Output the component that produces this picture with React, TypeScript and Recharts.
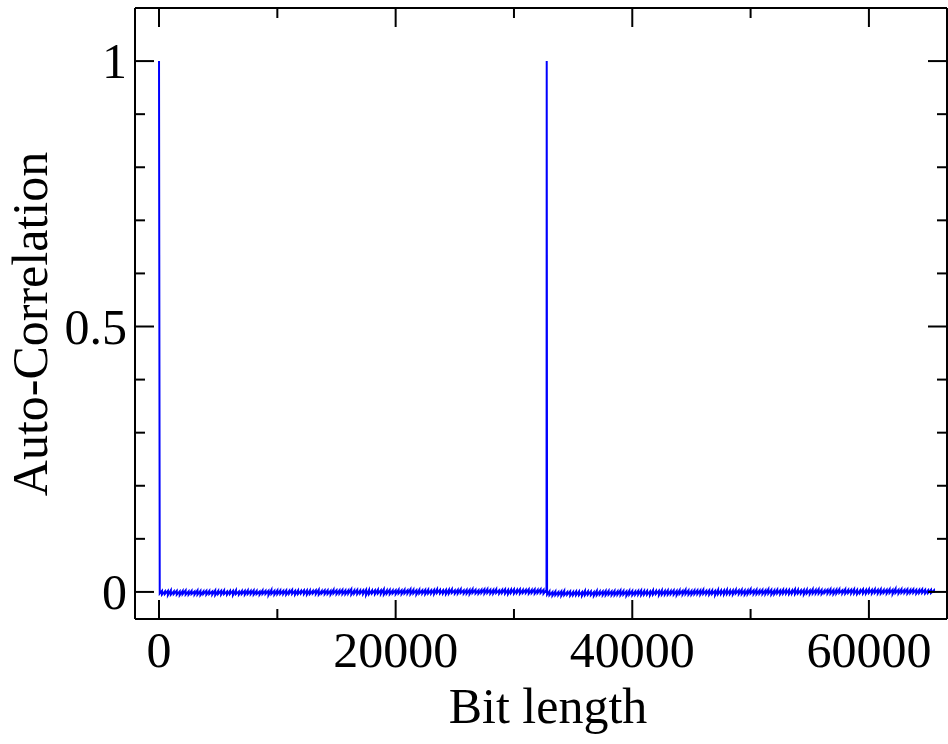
import { LineChart, Line, XAxis, YAxis, Label } from 'recharts'

// lag (bits) and the upper / lower edge of the noisy auto-correlation trace
// at each lag (in 1/1000)
const bitLags = [
  0, 60,
  250, 500, 750, 1000, 1250, 1500, 1750, 2000, 2250, 2500,
  2750, 3000, 3250, 3500, 3750, 4000, 4250, 4500, 4750, 5000,
  5250, 5500, 5750, 6000, 6250, 6500, 6750, 7000, 7250, 7500,
  7750, 8000, 8250, 8500, 8750, 9000, 9250, 9500, 9750, 10000,
  10250, 10500, 10750, 11000, 11250, 11500, 11750, 12000, 12250, 12500,
  12750, 13000, 13250, 13500, 13750, 14000, 14250, 14500, 14750, 15000,
  15250, 15500, 15750, 16000, 16250, 16500, 16750, 17000, 17250, 17500,
  17750, 18000, 18250, 18500, 18750, 19000, 19250, 19500, 19750, 20000,
  20250, 20500, 20750, 21000, 21250, 21500, 21750, 22000, 22250, 22500,
  22750, 23000, 23250, 23500, 23750, 24000, 24250, 24500, 24750, 25000,
  25250, 25500, 25750, 26000, 26250, 26500, 26750, 27000, 27250, 27500,
  27750, 28000, 28250, 28500, 28750, 29000, 29250, 29500, 29750, 30000,
  30250, 30500, 30750, 31000, 31250, 31500, 31750, 32000, 32250, 32500,
  32750, 32768, 32800,
  33000, 33250, 33500, 33750, 34000, 34250, 34500, 34750, 35000, 35250,
  35500, 35750, 36000, 36250, 36500, 36750, 37000, 37250, 37500, 37750,
  38000, 38250, 38500, 38750, 39000, 39250, 39500, 39750, 40000, 40250,
  40500, 40750, 41000, 41250, 41500, 41750, 42000, 42250, 42500, 42750,
  43000, 43250, 43500, 43750, 44000, 44250, 44500, 44750, 45000, 45250,
  45500, 45750, 46000, 46250, 46500, 46750, 47000, 47250, 47500, 47750,
  48000, 48250, 48500, 48750, 49000, 49250, 49500, 49750, 50000, 50250,
  50500, 50750, 51000, 51250, 51500, 51750, 52000, 52250, 52500, 52750,
  53000, 53250, 53500, 53750, 54000, 54250, 54500, 54750, 55000, 55250,
  55500, 55750, 56000, 56250, 56500, 56750, 57000, 57250, 57500, 57750,
  58000, 58250, 58500, 58750, 59000, 59250, 59500, 59750, 60000, 60250,
  60500, 60750, 61000, 61250, 61500, 61750, 62000, 62250, 62500, 62750,
  63000, 63250, 63500, 63750, 64000, 64250, 64500, 64750, 65000, 65250,
  65500, 65535,
]

const corrHighMilli = [
  1000, 1,
  2, 1, 2, 3, 1, 2, 1, 2, 3, 1,
  2, 1, 3, 2, 1, 2, 2, 1, 3, 2,
  2, 3, 1, 2, 2, 3, 1, 2, 2, 3,
  2, 3, 2, 1, 3, 2, 2, 4, 2, 3,
  3, 2, 3, 2, 4, 2, 3, 2, 3, 3,
  3, 2, 3, 4, 2, 3, 3, 2, 4, 3,
  3, 4, 3, 3, 5, 3, 4, 3, 3, 4,
  4, 3, 3, 4, 3, 5, 3, 4, 3, 3,
  4, 3, 4, 3, 5, 4, 3, 4, 3, 4,
  4, 3, 4, 5, 4, 3, 4, 4, 5, 3,
  4, 5, 3, 4, 4, 5, 4, 3, 4, 5,
  5, 4, 4, 5, 3, 4, 5, 4, 4, 5,
  4, 5, 4, 4, 5, 4, 5, 4, 5, 4,
  4, 1000, 0,
  1, 0, 1, 0, 1, 2, 0, 1, 0, 1,
  1, 0, 2, 1, 1, 0, 2, 1, 1, 2,
  2, 1, 2, 1, 3, 2, 1, 2, 2, 1,
  2, 3, 2, 2, 1, 3, 2, 2, 3, 2,
  3, 2, 3, 2, 3, 2, 4, 3, 2, 3,
  3, 3, 4, 2, 3, 3, 2, 4, 3, 3,
  4, 3, 3, 4, 3, 4, 3, 3, 5, 3,
  4, 3, 4, 3, 5, 4, 3, 4, 3, 4,
  4, 4, 3, 5, 4, 3, 4, 4, 3, 5,
  4, 5, 4, 3, 4, 5, 4, 4, 5, 3,
  5, 4, 4, 5, 4, 3, 5, 4, 5, 4,
  5, 4, 5, 4, 4, 5, 4, 6, 4, 5,
  4, 5, 4, 5, 4, 4, 5, 4, 3, 4,
  3, 1,
]

const corrLowMilli = [
  1000, -3,
  -5, -4, -6, -5, -4, -5, -6, -4, -5, -5,
  -4, -5, -5, -6, -4, -5, -4, -5, -6, -4,
  -5, -4, -5, -4, -6, -4, -5, -4, -5, -4,
  -4, -5, -4, -5, -4, -4, -6, -4, -5, -4,
  -4, -4, -5, -3, -4, -5, -4, -3, -4, -5,
  -4, -3, -4, -5, -3, -4, -4, -5, -3, -4,
  -3, -4, -4, -3, -5, -3, -4, -3, -4, -6,
  -4, -3, -4, -3, -4, -5, -3, -4, -3, -4,
  -3, -4, -3, -3, -4, -3, -5, -3, -3, -4,
  -3, -3, -4, -2, -3, -3, -4, -3, -2, -3,
  -3, -2, -3, -3, -4, -2, -3, -3, -2, -3,
  -2, -3, -3, -2, -3, -2, -3, -4, -2, -3,
  -2, -3, -2, -2, -3, -2, -3, -2, -2, -3,
  -2, 1000, -5,
  -6, -7, -6, -6, -7, -6, -5, -7, -6, -6,
  -6, -7, -6, -5, -6, -7, -6, -5, -6, -6,
  -5, -6, -6, -5, -6, -5, -7, -5, -6, -5,
  -5, -6, -5, -5, -6, -5, -4, -6, -5, -5,
  -5, -4, -5, -6, -4, -5, -4, -5, -5, -4,
  -4, -5, -4, -4, -5, -4, -6, -4, -4, -5,
  -4, -4, -5, -3, -4, -4, -5, -4, -3, -4,
  -4, -3, -4, -4, -3, -5, -4, -3, -4, -3,
  -3, -4, -3, -4, -3, -3, -5, -3, -4, -3,
  -3, -3, -4, -2, -3, -3, -4, -3, -2, -3,
  -3, -2, -3, -3, -4, -2, -3, -3, -2, -3,
  -2, -3, -3, -2, -3, -2, -4, -2, -3, -2,
  -2, -3, -2, -2, -3, -2, -2, -3, -2, -2,
  -1, 1,
]

const xTicks = [0, 10000, 20000, 30000, 40000, 50000, 60000]
const xLabels = [0, 20000, 40000, 60000]
const yTicks = [0, 0.1, 0.2, 0.3, 0.4, 0.5, 0.6, 0.7, 0.8, 0.9, 1]
const yLabels = [0, 0.5, 1]

// upper then lower edge at every lag, so the trace sweeps the noise band
const data = bitLags.flatMap((lag, i) => [
  { lag, corr: corrHighMilli[i] / 1000 },
  { lag, corr: corrLowMilli[i] / 1000 },
])

const FONT = '"Liberation Serif", "Times New Roman", serif'
const MAJOR = 19
const MINOR = 10

function BottomTick(props: any) {
  const { x, y, payload } = props
  const major = xLabels.includes(payload.value)
  return (
    <g>
      <line x1={x} x2={x} y1={y} y2={y - (major ? MAJOR : MINOR)} stroke="#000" strokeWidth={2} />
      {major && (
        <text x={x} y={y + 48} textAnchor="middle" fontSize={50} fontFamily={FONT} fill="#000">
          {payload.value}
        </text>
      )}
    </g>
  )
}

function TopTick(props: any) {
  const { x, y, payload } = props
  const major = xLabels.includes(payload.value)
  return <line x1={x} x2={x} y1={y} y2={y + (major ? MAJOR : MINOR)} stroke="#000" strokeWidth={2} />
}

function LeftTick(props: any) {
  const { x, y, payload } = props
  const major = yLabels.includes(payload.value)
  return (
    <g>
      <line x1={x} x2={x + (major ? MAJOR : MINOR)} y1={y} y2={y} stroke="#000" strokeWidth={2} />
      {major && (
        <text x={x - 8} y={y + 17} textAnchor="end" fontSize={50} fontFamily={FONT} fill="#000">
          {String(payload.value)}
        </text>
      )}
    </g>
  )
}

function RightTick(props: any) {
  const { x, y, payload } = props
  const major = yLabels.includes(payload.value)
  return <line x1={x} x2={x - (major ? MAJOR : MINOR)} y1={y} y2={y} stroke="#000" strokeWidth={2} />
}

const axisLine = { stroke: '#000', strokeWidth: 2 }

export default function App() {
  return (
    <div style={{ position: 'absolute', left: 0, top: 0, background: '#fff' }}>
      <LineChart width={948} height={744} data={data} margin={{ top: 0, right: 0, bottom: 0, left: 0 }}>
        <XAxis
          dataKey="lag"
          type="number"
          domain={[-2030, 66600]}
          allowDataOverflow
          ticks={xTicks}
          interval={0}
          tickSize={0}
          tickMargin={0}
          tickLine={false}
          axisLine={axisLine}
          tick={<BottomTick />}
          height={125}
        >
          <Label
            content={() => (
              <text x={548} y={723} textAnchor="middle" fontSize={50} fontFamily={FONT} fill="#000">
                Bit length
              </text>
            )}
          />
        </XAxis>
        <XAxis
          xAxisId="top"
          orientation="top"
          dataKey="lag"
          type="number"
          domain={[-2030, 66600]}
          allowDataOverflow
          ticks={xTicks}
          interval={0}
          tickSize={0}
          tickMargin={0}
          tickLine={false}
          axisLine={axisLine}
          tick={<TopTick />}
          height={8}
        />
        <YAxis
          type="number"
          domain={[-0.051, 1.1]}
          allowDataOverflow
          ticks={yTicks}
          interval={0}
          tickSize={0}
          tickMargin={0}
          tickLine={false}
          axisLine={axisLine}
          tick={<LeftTick />}
          width={135}
        >
          <Label
            content={() => (
              <text
                x={30}
                y={324}
                transform="rotate(-90 30 324)"
                textAnchor="middle"
                dominantBaseline="central"
                fontSize={50}
                fontFamily={FONT}
                fill="#000"
              >
                Auto-Correlation
              </text>
            )}
          />
        </YAxis>
        <YAxis
          yAxisId="right"
          orientation="right"
          type="number"
          domain={[-0.051, 1.1]}
          allowDataOverflow
          ticks={yTicks}
          interval={0}
          tickSize={0}
          tickMargin={0}
          tickLine={false}
          axisLine={axisLine}
          tick={<RightTick />}
          width={1}
        />
        <Line
          type="linear"
          dataKey="corr"
          stroke="#0000ff"
          strokeWidth={2}
          dot={false}
          isAnimationActive={false}
        />
      </LineChart>
    </div>
  )
}
